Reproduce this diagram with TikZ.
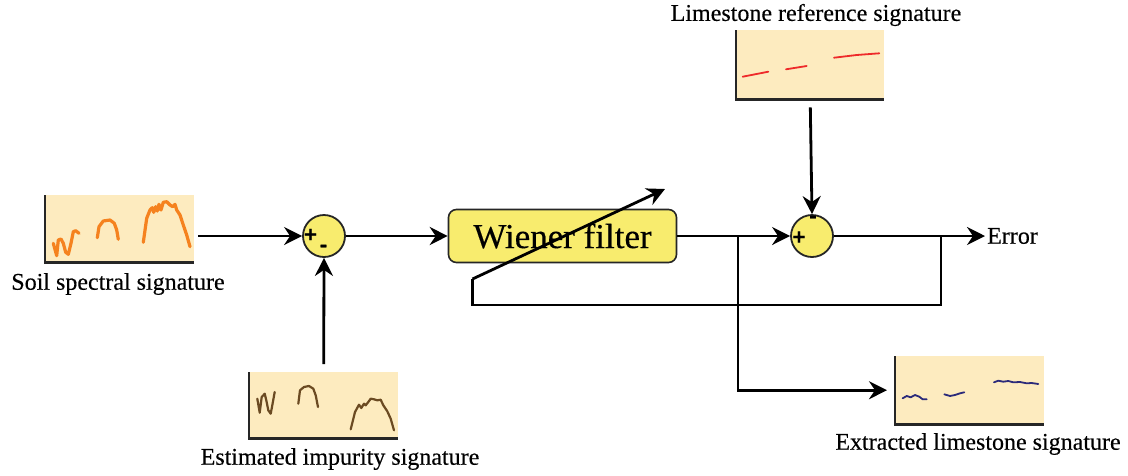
\documentclass[tikz,border=0pt]{standalone}
\usepackage{fontspec}
\setmainfont{Liberation Serif}[Ligatures=TeX, FakeBold=0.3]
\newfontfamily\signfont{DejaVu Sans}[FakeBold=1]
\usetikzlibrary{arrows.meta}
\definecolor{sigbg}{HTML}{FDEBBF}
\definecolor{sumyel}{HTML}{F8EC6E}
\definecolor{soilc}{HTML}{F5821F}
\definecolor{impc}{HTML}{6B4A22}
\definecolor{refc}{HTML}{EE2A2A}
\definecolor{extc}{HTML}{2B2A7A}
\tikzset{
  conn/.style={line width=2.8pt, -{Stealth[length=18pt,width=18pt,inset=6pt]}},
  plain/.style={line width=2.8pt},
  sigbox/.style={fill=sigbg, draw=none, anchor=north west, inner sep=0pt},
  axisl/.style={line width=2.8pt, draw=black!85},
  sumnode/.style={circle, fill=sumyel, draw=black!85, line width=1.8pt, minimum size=42pt, inner sep=0pt},
  sign/.style={font=\signfont\bfseries\fontsize{18}{18}\selectfont, inner sep=0pt},
  lbl/.style={font=\fontsize{24}{26}\selectfont, inner sep=0pt},
  curve/.style={line join=round, line cap=round}
}
\begin{document}
\begin{tikzpicture}[x=1pt,y=-1pt]
\useasboundingbox (0,0) rectangle (1128,475);

% signature boxes
\node[sigbox, minimum width=149pt, minimum height=67pt] (soil) at (45,195) {};
\node[sigbox, minimum width=149pt, minimum height=66pt] (imp) at (249,372) {};
\node[sigbox, minimum width=148pt, minimum height=69pt] (lime) at (736,30) {};
\node[sigbox, minimum width=149pt, minimum height=68pt] (ext) at (895,356) {};
\foreach \b in {soil,imp,lime,ext}{
  \draw[axisl] (\b.north west) -- (\b.south west) -- (\b.south east);
}

% signals
\draw[curve, soilc, line width=3.2pt] (53.3,243.3) -- (56.7,255.7) -- (58.3,240) -- (61,239) -- (63.3,243.3) -- (65.7,252.3) -- (68.3,254.3) -- (71,243.3) -- (73.3,231.7) -- (75.7,230.7) -- (79,233.3);
\draw[curve, soilc, line width=3.2pt] (97.3,237.7) -- (99,226.7) -- (103.3,221) -- (110,220) -- (114.3,223.3) -- (116.7,230) -- (118.3,239.3);
\draw[curve, soilc, line width=3.2pt] (143.3,242.3) -- (146.7,218.3) -- (150,210) -- (152.3,207.7) -- (153.7,212.3) -- (155.7,206.7) -- (157.3,211) -- (159,204.3) -- (161,210) -- (163.3,202.3) -- (166.7,201.7) -- (170,205) -- (172.7,206.7) -- (175,204.3) -- (176.7,210) -- (180,215) -- (183.3,225) -- (186.7,235) -- (190,246.7);

\draw[curve, impc, line width=2.2pt] (257.3,398.7) -- (259.7,412.7) -- (261.7,397) -- (263.3,395.3) -- (264.7,393.7) -- (266.3,400.3) -- (268.3,410.3) -- (270.7,413.7) -- (272.3,405.3) -- (274.7,392);
\draw[curve, impc, line width=2.2pt] (298.3,403.7) -- (300,390.3) -- (304,387) -- (309,386) -- (313.3,388.7) -- (315.7,395.3) -- (318,407);
\draw[curve, impc, line width=2.2pt] (350.7,429.3) -- (355,412) -- (359,404.7) -- (361.3,408) -- (364,403.7) -- (365.7,405.3) -- (368.3,402) -- (370.7,398.7) -- (374,399.3) -- (377.3,400.3) -- (380.7,399.7) -- (383.3,405.3) -- (387.3,411.3) -- (390.7,418.7) -- (394,430.3);

\draw[curve, refc, line width=1.8pt] (742.7,76.7) -- (768.3,71.7);
\draw[curve, refc, line width=1.8pt] (786,69.3) -- (806.7,66);
\draw[curve, refc, line width=1.8pt] (834,57.7) -- (856.7,55) -- (879.3,53.3);

\draw[curve, extc, line width=1.8pt] (902.7,398.3) -- (906.7,396) -- (910.7,397.3) -- (915,395) -- (919.3,396.7) -- (922.7,399.3) -- (926.7,399.3);
\draw[curve, extc, line width=1.8pt] (944.3,394.3) -- (950,396) -- (955,395) -- (960,393.3) -- (964.3,392.3);
\draw[curve, extc, line width=1.8pt] (994,382.3) -- (998.3,380.7) -- (1003.3,381.7) -- (1008.3,381) -- (1013.3,382.3) -- (1020,382) -- (1026.7,383.3) -- (1031.7,383) -- (1038.3,384);

% labels
\node[lbl] (soillbl) at (118,284) {Soil spectral signature};
\node[lbl] (implbl) at (340,459) {Estimated impurity signature};
\node[lbl] (limelbl) at (816,15) {Limestone reference signature};
\node[lbl] (extlbl) at (978,444) {Extracted limestone signature};

% summing junctions
\node[sumnode] (s1) at (324,236) {};
\node[sign] (s1p) at (310.5,234.5) {+};
\node[sign] (s1m) at (323.5,248) {-};
\node[sumnode] (s2) at (812,236) {};
\node[sign] (s2p) at (799,237) {+};
\node[sign] (s2m) at (813,219) {-};

% Wiener filter
\node[rounded corners=8pt, fill=sumyel, draw=black!85, line width=1.6pt, minimum width=228pt, minimum height=53pt, inner sep=0pt, font=\fontsize{35}{38}\selectfont] (wf) at (562.5,236) {Wiener filter};

% error label
\node[lbl, anchor=west] (err) at (987,236) {Error};

% connectors
\draw[conn, shorten <=4pt] (soil.east |- s1.west) -- (s1.west);
\draw[conn, shorten <=8pt] (imp.north) -- (s1.south);
\draw[conn] (s1.east) -- (wf.west);
\draw[conn] (wf.east) -- (s2.west);
\draw[conn, shorten <=8pt] (lime.south) -- (s2.north);
\draw[conn, shorten >=2pt] (s2.east) -- (err.west);

\coordinate (br) at (738,236);
\draw[conn, shorten >=8pt] (br) |- (ext.west);

\coordinate (fb) at (472.5,279);
\coordinate (fbtip) at (665,189);
\coordinate (errj) at (941,236);
\draw[plain, line join=miter] (errj) |- (472.5,305) -- (fb);
\draw[conn] (fb) -- (fbtip);
\end{tikzpicture}
\end{document}
